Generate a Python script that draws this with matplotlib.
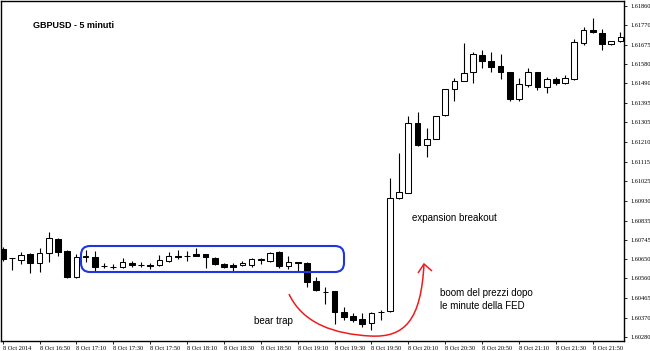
"""
GBPUSD 5 minute candles around the FED minutes (8 Oct 2014)
"""

import numpy as np
import matplotlib
matplotlib.use("Agg")
import matplotlib.pyplot as plt
from matplotlib.patches import FancyBboxPatch, PathPatch
from matplotlib.path import Path
from matplotlib.transforms import Affine2D

# ==========================================================
# Data (one candle every 5 minutes, 16:30 -> 22:05)
# ==========================================================

opens = [1.60700, 1.60657, 1.60647, 1.60676, 1.60633, 1.60681, 1.60747, 1.60690, 1.60566, 1.60662,
         1.60662, 1.60619, 1.60614, 1.60614, 1.60633, 1.60623, 1.60623, 1.60623, 1.60643, 1.60666,
         1.60666, 1.60676, 1.60676, 1.60657, 1.60628, 1.60623, 1.60623, 1.60623, 1.60647, 1.60643,
         1.60685, 1.60619, 1.60638, 1.60633, 1.60547, 1.60494, 1.60499, 1.60399, 1.60380, 1.60366,
         1.60347, 1.60399, 1.60404, 1.60943, 1.60967, 1.61301, 1.61196, 1.61224, 1.61339, 1.61463,
         1.61501, 1.61544, 1.61625, 1.61596, 1.61573, 1.61544, 1.61415, 1.61482, 1.61544, 1.61473,
         1.61511, 1.61492, 1.61511, 1.61682, 1.61744, 1.61730, 1.61678, 1.61692]

highs = [1.60709, 1.60659, 1.60685, 1.60681, 1.60705, 1.60781, 1.60752, 1.60695, 1.60676, 1.60695,
         1.60690, 1.60633, 1.60628, 1.60657, 1.60643, 1.60638, 1.60633, 1.60671, 1.60685, 1.60695,
         1.60690, 1.60705, 1.60676, 1.60662, 1.60633, 1.60633, 1.60643, 1.60657, 1.60657, 1.60685,
         1.60690, 1.60666, 1.60638, 1.60638, 1.60566, 1.60518, 1.60499, 1.60423, 1.60394, 1.60394,
         1.60399, 1.60409, 1.61038, 1.61158, 1.61334, 1.61353, 1.61277, 1.61334, 1.61463, 1.61515,
         1.61682, 1.61640, 1.61649, 1.61640, 1.61630, 1.61544, 1.61515, 1.61563, 1.61544, 1.61520,
         1.61520, 1.61530, 1.61702, 1.61759, 1.61802, 1.61749, 1.61692, 1.61735]

lows = [1.60643, 1.60600, 1.60628, 1.60585, 1.60590, 1.60638, 1.60666, 1.60562, 1.60562, 1.60638,
        1.60595, 1.60609, 1.60604, 1.60609, 1.60614, 1.60614, 1.60604, 1.60619, 1.60638, 1.60652,
        1.60643, 1.60666, 1.60609, 1.60623, 1.60609, 1.60590, 1.60619, 1.60614, 1.60628, 1.60638,
        1.60609, 1.60604, 1.60590, 1.60518, 1.60499, 1.60437, 1.60342, 1.60361, 1.60352, 1.60328,
        1.60313, 1.60361, 1.60399, 1.60940, 1.60967, 1.61191, 1.61139, 1.61224, 1.61334, 1.61406,
        1.61501, 1.61492, 1.61563, 1.61544, 1.61511, 1.61406, 1.61406, 1.61473, 1.61458, 1.61444,
        1.61482, 1.61487, 1.61506, 1.61673, 1.61730, 1.61649, 1.61673, 1.61687]

closes = [1.60652, 1.60657, 1.60671, 1.60633, 1.60681, 1.60752, 1.60685, 1.60566, 1.60662, 1.60666,
          1.60614, 1.60619, 1.60614, 1.60638, 1.60623, 1.60623, 1.60619, 1.60647, 1.60666, 1.60662,
          1.60666, 1.60666, 1.60662, 1.60628, 1.60614, 1.60614, 1.60633, 1.60652, 1.60652, 1.60681,
          1.60619, 1.60638, 1.60633, 1.60542, 1.60504, 1.60494, 1.60399, 1.60375, 1.60361, 1.60342,
          1.60394, 1.60399, 1.60943, 1.60972, 1.61301, 1.61196, 1.61224, 1.61334, 1.61463, 1.61501,
          1.61539, 1.61630, 1.61596, 1.61568, 1.61544, 1.61415, 1.61487, 1.61544, 1.61473, 1.61511,
          1.61492, 1.61515, 1.61687, 1.61744, 1.61735, 1.61678, 1.61692, 1.61711]

time_labels = ["8 Oct 2014", "8 Oct 16:50", "8 Oct 17:10", "8 Oct 17:30", "8 Oct 17:50",
               "8 Oct 18:10", "8 Oct 18:30", "8 Oct 18:50", "8 Oct 19:10", "8 Oct 19:30",
               "8 Oct 19:50", "8 Oct 20:10", "8 Oct 20:30", "8 Oct 20:50", "8 Oct 21:10",
               "8 Oct 21:30", "8 Oct 21:50"]

price_ticks = [1.61860, 1.61770, 1.61675, 1.61580, 1.61490, 1.61395, 1.61305, 1.61210, 1.61115,
               1.61025, 1.60930, 1.60835, 1.60745, 1.60650, 1.60560, 1.60465, 1.60370, 1.60280]

# ==========================================================
# Figure
# ==========================================================

W, H, DPI = 650, 351, 100

fig = plt.figure(figsize=(W / DPI, H / DPI), dpi=DPI)
fig.patch.set_facecolor("white")

ax = fig.add_axes([1 / W, 10 / H, 623 / W, 340 / H])

o = np.array(opens)
h = np.array(highs)
l = np.array(lows)
c = np.array(closes)
x = np.arange(len(o))

bull = c >= o

# wicks
ax.vlines(x, l, h, color="black", linewidth=0.8, zorder=2)

# bodies
ax.bar(x, c - o, bottom=o, width=0.62,
       color=np.where(bull, "white", "black"),
       edgecolor="black", linewidth=0.75, zorder=3)

ax.set_xlim(-0.18, 67.39)
ax.set_ylim(1.602609, 1.618827)

# ==========================================================
# Axes style (MetaTrader look)
# ==========================================================

for side in ["left", "top", "right", "bottom"]:
    ax.spines[side].set_color("black")
    ax.spines[side].set_linewidth(1.0)

ax.set_xticks(x[::4])
ax.set_xticklabels(time_labels, ha="left", fontsize=4.6,
                   family="Liberation Serif", color="black")
ax.tick_params(axis="x", direction="out", length=2.5, width=0.6, pad=1)

ax.yaxis.tick_right()
ax.set_yticks(price_ticks)
ax.set_yticklabels([f"{p:.5f}" for p in price_ticks], fontsize=4.6,
                   family="Liberation Serif", color="black")
ax.tick_params(axis="y", direction="out", length=2.5, width=0.6, pad=2)

# ==========================================================
# Annotations (reference pixel coordinates, y down)
# ==========================================================

pix = Affine2D().scale(1 / DPI, -1 / DPI).translate(0, H / DPI) + fig.dpi_scale_trans

fig.text(33, 25, "GBPUSD - 5 minuti", transform=pix, fontsize=6.5, fontweight="bold",
         family="Liberation Sans", va="center", ha="left")

fig.text(412, 218, "expansion breakout", transform=pix, fontsize=7,
         family="Liberation Sans", va="center", ha="left")

fig.text(440, 293, "boom del prezzi dopo", transform=pix, fontsize=7,
         family="Liberation Sans", va="center", ha="left")
fig.text(440, 306, "le minute della FED", transform=pix, fontsize=7,
         family="Liberation Sans", va="center", ha="left")

fig.text(254, 321, "bear trap", transform=pix, fontsize=7,
         family="Liberation Sans", va="center", ha="left")

# blue range box
box = FancyBboxPatch((81, 246), 263, 26,
                     boxstyle="round,pad=0,rounding_size=9",
                     transform=pix, facecolor="none",
                     edgecolor="#1f35e0", linewidth=1.5, zorder=5)
fig.patches.append(box)

# red hand-drawn arrow
curve = Path(
    [(289, 294), (303, 324), (335, 334), (370, 336),
     (405, 338), (421, 320), (424, 264)],
    [Path.MOVETO, Path.CURVE4, Path.CURVE4, Path.CURVE4,
     Path.CURVE4, Path.CURVE4, Path.CURVE4]
)
fig.patches.append(PathPatch(curve, transform=pix, facecolor="none",
                             edgecolor="#ee1c1c", linewidth=1.1, zorder=5))

head = Path([(418, 273), (424, 264), (432, 271)],
            [Path.MOVETO, Path.LINETO, Path.LINETO])
fig.patches.append(PathPatch(head, transform=pix, facecolor="none",
                             edgecolor="#ee1c1c", linewidth=1.1, zorder=5))

plt.savefig("out.png", dpi=DPI)
plt.close()
